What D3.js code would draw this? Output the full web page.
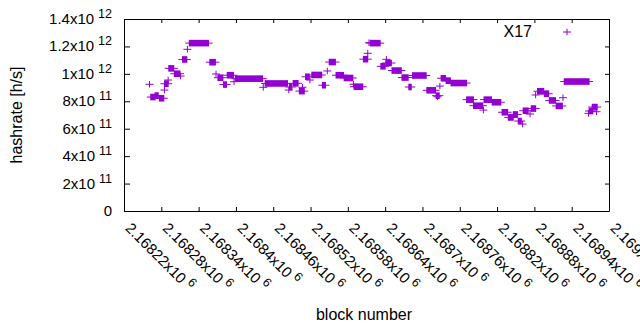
<!DOCTYPE html>
<html>
<head>
<meta charset="utf-8">
<script src="https://cdn.jsdelivr.net/npm/d3@7"></script>
<style>
body { margin: 0; background: #fff; }
text { font-family: "Liberation Sans", Arial, sans-serif; }
</style>
</head>
<body>
<svg id="chart" width="640" height="330"></svg>
<script>
// runs of blocks sharing one hashrate value (single points have start == end)
let runStart = [2168261, 2168263, 2168270, 2168277, 2168285, 2168285, 2168291, 2168292, 2168301, 2168311,
	2168314, 2168322, 2168325, 2168358, 2168368, 2168371, 2168380, 2168386, 2168397, 2168399,
	2168444, 2168447, 2168485, 2168486, 2168492, 2168502, 2168507, 2168512, 2168519, 2168522,
	2168539, 2168547, 2168550, 2168561, 2168574, 2168589, 2168590, 2168605, 2168612, 2168614,
	2168616, 2168633, 2168641, 2168642, 2168651, 2168667, 2168678, 2168684, 2168707, 2168722,
	2168724, 2168728, 2168730, 2168738, 2168746, 2168771, 2168782, 2168798, 2168799, 2168812,
	2168828, 2168838, 2168846, 2168854, 2168861, 2168862, 2168873, 2168875, 2168882, 2168885,
	2168896, 2168904, 2168915, 2168926, 2168928, 2168967, 2168968, 2168973, 2168980]
let runEnd = [2168261, 2168270, 2168275, 2168284, 2168285, 2168291, 2168291, 2168300, 2168310, 2168311,
	2168321, 2168322, 2168356, 2168367, 2168368, 2168379, 2168385, 2168396, 2168397, 2168443,
	2168444, 2168483, 2168485, 2168490, 2168500, 2168510, 2168507, 2168518, 2168519, 2168538,
	2168544, 2168547, 2168560, 2168573, 2168588, 2168589, 2168604, 2168612, 2168612, 2168614,
	2168632, 2168640, 2168650, 2168642, 2168666, 2168677, 2168682, 2168706, 2168721, 2168727,
	2168724, 2168728, 2168737, 2168745, 2168771, 2168782, 2168797, 2168798, 2168811, 2168826,
	2168837, 2168846, 2168853, 2168859, 2168861, 2168870, 2168873, 2168882, 2168882, 2168895,
	2168903, 2168914, 2168925, 2168926, 2168968, 2168967, 2168974, 2168981, 2168980]
let runRate = [9.24e11, 8.31e11, 8.42e11, 8.22e11, 8.82e11, 9.28e11, 9.55e11, 1.040e12, 1.001e12, 9.84e11,
	1.105e12, 1.179e12, 1.224e12, 1.085e12, 9.99e11, 9.72e11, 9.22e11, 9.90e11, 9.43e11, 9.65e11,
	9.02e11, 9.30e11, 8.82e11, 9.04e11, 9.31e11, 8.74e11, 9.02e11, 9.79e11, 9.55e11, 9.92e11,
	9.17e11, 1.021e12, 1.086e12, 9.90e11, 9.70e11, 9.24e11, 9.06e11, 1.107e12, 1.150e12, 1.227e12,
	1.224e12, 1.055e12, 1.079e12, 1.106e12, 1.024e12, 9.73e11, 9.04e11, 9.88e11, 8.80e11, 8.41e11,
	8.33e11, 9.11e11, 9.68e11, 9.50e11, 9.33e11, 8.12e11, 7.68e11, 7.36e11, 8.12e11, 7.93e11,
	7.20e11, 6.82e11, 7.04e11, 6.56e11, 6.34e11, 7.31e11, 7.07e11, 7.47e11, 8.46e11, 8.73e11,
	8.55e11, 8.06e11, 7.66e11, 8.26e11, 9.44e11, 7.12e11, 7.29e11, 7.58e11, 7.24e11]

let xTicks = [2168220, 2168280, 2168340, 2168400, 2168460, 2168520, 2168580,
	2168640, 2168700, 2168760, 2168820, 2168880, 2168940, 2169000]
let yTicks = [0, 2e11, 4e11, 6e11, 8e11, 1e12, 1.2e12, 1.4e12]
let seriesName = 'X17'

let color = '#9400d3'
let svg = d3.select('#chart')
let mLeft = 124, mRight = 609, mTop = 19, mBottom = 211

let x = d3.scaleLinear().domain([xTicks[0], xTicks[xTicks.length - 1]]).range([mLeft, mRight])
let y = d3.scaleLinear().domain([0, 1.4e12]).range([mBottom, mTop])

// gnuplot style "2.16822x10^6"
let sci = v => {
	if (v == 0) return ['0', null]
	let e = Math.floor(Math.log10(v) + 1e-9)
	let m = parseFloat((v / Math.pow(10, e)).toPrecision(8))
	return [m + 'x10', e]
}
let writeSci = (sel, supSize, supRise) => {
	sel.each(function(d) {
		let t = d3.select(this), s = sci(d)
		t.text(null)
		t.append('tspan').text(s[0])
		if (s[1] != null) t.append('tspan').attr('dx', 4).attr('dy', -supRise).style('font-size', supSize + 'px').text(s[1])
	})
}

let gx = svg.append('g').attr('transform', 'translate(0,' + mBottom + ')')
	.call(d3.axisBottom(x).tickValues(xTicks).tickSizeInner(-4).tickSizeOuter(0))
gx.attr('font-family', null).attr('font-size', null)
gx.selectAll('text')
	.attr('y', null).attr('dy', null)
	.attr('text-anchor', 'start')
	.attr('transform', 'translate(0,18) rotate(45)')
	.style('font-size', '15px')
	.call(writeSci, 12.5, 6)

let gy = svg.append('g').attr('transform', 'translate(' + mLeft + ',0)')
	.call(d3.axisLeft(y).tickValues(yTicks).tickSizeInner(-6).tickSizeOuter(0).tickPadding(12))
gy.attr('font-family', null).attr('font-size', null)
gy.selectAll('text').attr('dy', '0.3em').style('font-size', '15px').call(writeSci, 12.5, 6)

svg.append('g').attr('transform', 'translate(0,' + mTop + ')')
	.call(d3.axisTop(x).tickValues(xTicks).tickSizeInner(-4).tickSizeOuter(0).tickFormat(''))
svg.append('g').attr('transform', 'translate(' + mRight + ',0)')
	.call(d3.axisRight(y).tickValues(yTicks).tickSizeInner(-4).tickSizeOuter(0).tickFormat(''))

svg.append('text').attr('x', 364).attr('y', 320).attr('text-anchor', 'middle')
	.style('font-size', '16px').text('block number')
svg.append('text').attr('transform', 'translate(22,' + (mTop + mBottom) / 2 + ') rotate(-90)')
	.attr('text-anchor', 'middle').style('font-size', '16px').text('hashrate [h/s]')

let runs = runStart.map((s, i) => ({ start: s, end: runEnd[i], rate: runRate[i] }))
let hw = 4, hh = 3.3

let marks = svg.append('g').selectAll('g.run').data(runs).enter().append('g').attr('class', 'run')
marks.append('rect')
	.attr('fill', color)
	.attr('x', d => x(d.start) - 0.5)
	.attr('width', d => x(d.end) - x(d.start) + 1)
	.attr('y', d => y(d.rate) - hh)
	.attr('height', 2 * hh)
marks.append('line')
	.attr('stroke', color)
	.attr('x1', d => x(d.start) - hw).attr('x2', d => x(d.end) + hw)
	.attr('y1', d => y(d.rate)).attr('y2', d => y(d.rate))

// key
svg.append('text').attr('x', 532).attr('y', 37).attr('text-anchor', 'end').style('font-size', '16px').text(seriesName)
let key = svg.append('g').attr('stroke', color)
key.append('line').attr('x1', 567 - hw).attr('x2', 567 + hw).attr('y1', 32).attr('y2', 32)
key.append('line').attr('x1', 567).attr('x2', 567).attr('y1', 32 - hh).attr('y2', 32 + hh)
</script>
</body>
</html>
